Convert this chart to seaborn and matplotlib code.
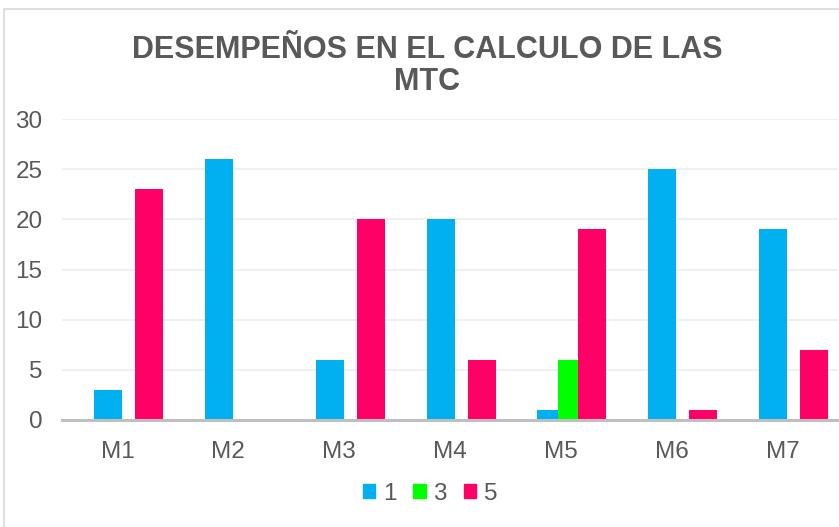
import pandas as pd
import numpy as np
import matplotlib.pyplot as plt
import seaborn as sns
from matplotlib.patches import Rectangle

# ======================================
# DATA
# ======================================

modulos = ["M1", "M2", "M3", "M4", "M5", "M6", "M7"]
niveles = ["1", "3", "5"]

nivel_1 = [3, 26, 6, 20, 1, 25, 19]
nivel_3 = [0, 0, 0, 0, 6, 0, 0]
nivel_5 = [23, 0, 20, 6, 19, 1, 7]

colores = ["#00B0F0", "#00FF00", "#FF0066"]

df = pd.DataFrame({
    "Modulo": modulos * 3,
    "Nivel": ["1"] * 7 + ["3"] * 7 + ["5"] * 7,
    "Valor": nivel_1 + nivel_3 + nivel_5,
})

# ======================================
# FIGURE
# ======================================

sns.set_theme(style="white")
plt.rcParams["font.family"] = ["Liberation Sans", "DejaVu Sans"]

W, H = 839, 527
fig = plt.figure(figsize=(W / 100, H / 100), dpi=100)

# chart border (only left and top edges visible)
fig.patches.append(Rectangle(
    (4 / W, -0.1), 1.2, 1.1 - 9 / H,
    transform=fig.transFigure, fill=False,
    edgecolor="#D9D9D9", linewidth=1.2, zorder=0
))

ax = fig.add_axes([62 / W, 1 - 420 / H, (838 - 62) / W, (420 - 119) / H])

sns.barplot(
    data=df, x="Modulo", y="Valor", hue="Nivel",
    hue_order=niveles, palette=colores, saturation=1,
    width=0.555, errorbar=None, ax=ax, linewidth=0,
)

# overlapping clustered bars (excel style)
bar_w = 0.2525
for p in ax.patches:
    c = p.get_x() + p.get_width() / 2 + 0.1
    p.set_width(bar_w)
    p.set_x(c - bar_w / 2)

ax.set_ylim(0, 30)
ax.set_xlim(-0.5, 6.5)
ax.set_yticks(np.arange(0, 31, 5))
ax.yaxis.grid(True, color="#EDEDED", linewidth=1.2)
ax.set_axisbelow(True)

for s in ["top", "right", "left"]:
    ax.spines[s].set_visible(False)
ax.spines["bottom"].set_color("#BFBFBF")
ax.spines["bottom"].set_linewidth(2.2)

ax.tick_params(axis="y", length=0, pad=14, labelsize=17.5, labelcolor="#595959")
ax.tick_params(axis="x", length=0, pad=15, labelsize=17.5, labelcolor="#595959")
ax.set_xlabel("")
ax.set_ylabel("")

# legend
if ax.get_legend() is not None:
    ax.get_legend().remove()
handles = [Rectangle((0, 0), 1, 1, color=c) for c in colores]
fig.legend(
    handles, niveles, loc="center", bbox_to_anchor=(430 / W, 1 - 494 / H),
    ncol=3, frameon=False, fontsize=17.5, labelcolor="#595959",
    handlelength=0.52, handleheight=0.52, handletextpad=0.3,
    columnspacing=0.7, borderpad=0,
)

# title
fig.text(
    427 / W, 1 - 66 / H, "DESEMPEÑOS EN EL CALCULO DE LAS\nMTC",
    ha="center", va="center", fontsize=22, fontweight="bold",
    color="#595959", linespacing=1.1,
)

fig.savefig("out.png", dpi=100)
